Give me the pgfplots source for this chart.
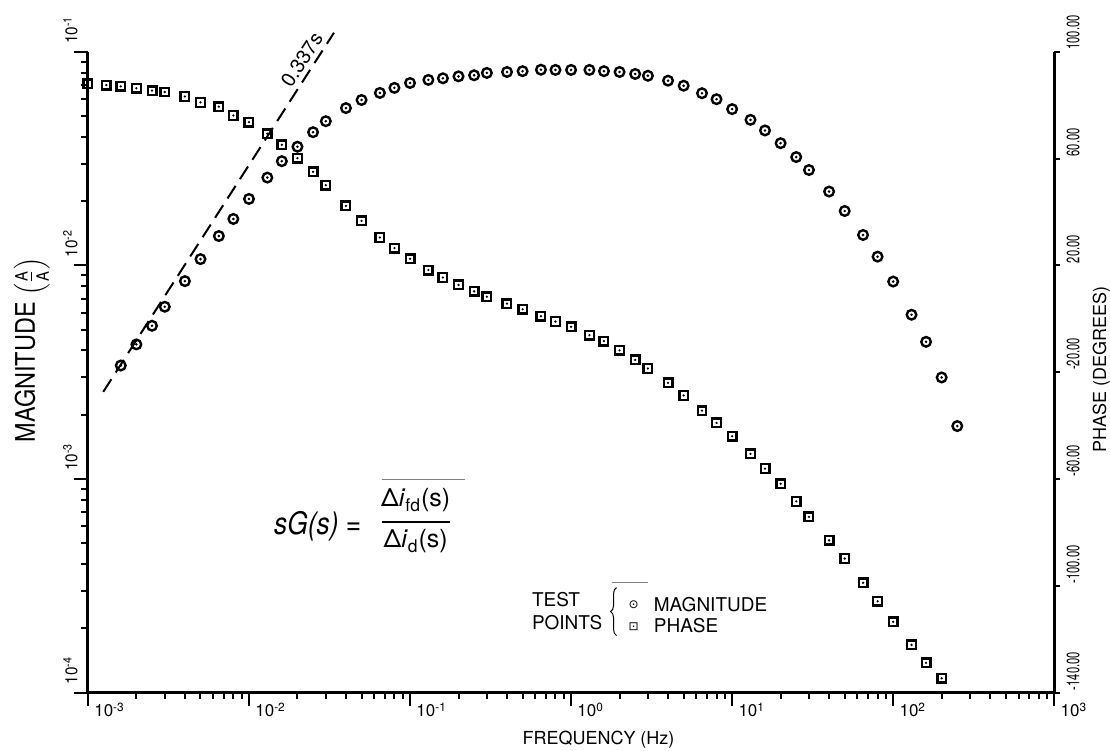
\documentclass[border=0pt]{standalone}
\usepackage{fontspec}
\setmainfont{TeX Gyre Heros}
\newfontfamily\narrowA[FakeStretch=0.62]{TeX Gyre Heros}
\newfontfamily\narrowB[FakeStretch=0.9]{TeX Gyre Heros}
\newfontfamily\narrowC[FakeStretch=0.87]{TeX Gyre Heros}
\newfontfamily\narrowD[FakeStretch=0.85]{TeX Gyre Heros}
\newfontfamily\symfont{DejaVu Sans}
\usepackage{pgfplots}
\usepackage{pgfplotstable}
\pgfplotsset{compat=1.18}
\usetikzlibrary{decorations.pathreplacing}

% dotted circle and dotted square test-point marks
\pgfdeclareplotmark{cdot}{%
  \pgfpathcircle{\pgfpointorigin}{\pgfplotmarksize}\pgfusepathqstroke
  \pgfpathcircle{\pgfpointorigin}{0.3\pgfplotmarksize}\pgfusepathqfill}
\pgfdeclareplotmark{sqdot}{%
  \pgfpathrectangle{\pgfpoint{-\pgfplotmarksize}{-\pgfplotmarksize}}{\pgfpoint{2\pgfplotmarksize}{2\pgfplotmarksize}}\pgfusepathqstroke
  \pgfpathcircle{\pgfpointorigin}{0.3\pgfplotmarksize}\pgfusepathqfill}

% magnitude test points: frequency (Hz), |sG| (A/A)
\pgfplotstableread{
f      m
0.0016 3.40e-3
0.002  4.27e-3
0.0025 5.22e-3
0.003  6.41e-3
0.004  8.45e-3
0.005  1.071e-2
0.0065 1.374e-2
0.008  1.652e-2
0.01   2.05e-2
0.013  2.58e-2
0.016  3.08e-2
0.02   3.60e-2
0.025  4.21e-2
0.03   4.74e-2
0.04   5.46e-2
0.05   5.96e-2
0.065  6.43e-2
0.08   6.79e-2
0.1    7.16e-2
0.13   7.40e-2
0.16   7.53e-2
0.2    7.69e-2
0.25   7.78e-2
0.3    7.98e-2
0.4    8.06e-2
0.5    8.13e-2
0.65   8.26e-2
0.8    8.24e-2
1.0    8.24e-2
1.3    8.24e-2
1.6    8.13e-2
2      8.06e-2
2.5    7.89e-2
3      7.74e-2
4      7.34e-2
5      6.95e-2
6.5    6.41e-2
8      6.01e-2
10     5.40e-2
13     4.81e-2
16     4.29e-2
20     3.74e-2
25     3.22e-2
30     2.80e-2
40     2.22e-2
50     1.80e-2
65     1.39e-2
80     1.10e-2
100    8.41e-3
130    5.88e-3
160    4.39e-3
200    2.99e-3
250    1.77e-3
}\magtab

% phase test points: frequency (Hz), phase (degrees)
\pgfplotstableread{
f      p
0.001  88.1
0.0013 87.6
0.0016 87.1
0.002  86.4
0.0025 85.5
0.003  85.0
0.004  83.3
0.005  81.1
0.0065 79.5
0.008  76.2
0.01   73.7
0.013  69.4
0.016  65.2
0.02   60.2
0.025  55.1
0.03   50.1
0.04   42.3
0.05   36.7
0.065  30.5
0.08   26.5
0.1    22.5
0.13   18.3
0.16   15.5
0.2    12.7
0.25   10.3
0.3    8.3
0.4    5.7
0.5    3.6
0.65   1.0
0.8   -1.0
1.0   -3.0
1.3   -6.1
1.6   -8.3
2     -11.8
2.5   -15.4
3     -18.6
4     -24.0
5     -28.7
6.5   -34.4
8     -39.0
10    -44.0
13    -50.6
16    -56.1
20    -61.8
25    -68.4
30    -74.2
40    -83.0
50    -89.8
65    -98.9
80    -105.8
100   -113.5
130   -122.2
160   -128.9
200   -134.7
}\phasetab

\begin{document}
\begin{tikzpicture}
% page frame: 555pt x 375.5pt with the axis box's lower left corner at the origin
\path (-44pt,-29pt) rectangle (511pt,346.5pt);

\begin{axis}[
  scale only axis, width=483.5pt, height=320.5pt,
  xmode=log, xmin=1e-3, xmax=1e3, clip=false,
  axis line style={line width=1.5pt},
  ymode=log, ymin=1e-4, ymax=1e-1,
  axis x line*=bottom, axis y line*=left,
  tick align=outside,
  every tick/.style={black, line width=1pt},
  major tick length=7pt, minor tick length=3.5pt,
  xtick={1e-3,1e-2,1e-1,1,10,100,1000},
  xticklabels={},
  minor xtick={0.002,0.003,0.004,0.005,0.006,0.007,0.008,0.009,
    0.02,0.03,0.04,0.05,0.06,0.07,0.08,0.09,
    0.2,0.3,0.4,0.5,0.6,0.7,0.8,0.9,
    2,3,4,5,6,7,8,9,20,30,40,50,60,70,80,90,
    200,300,400,500,600,700,800,900},
  ytick={1e-4,1e-3,1e-2,1e-1},
  yticklabels={},
  minor ytick={2e-4,3e-4,4e-4,5e-4,6e-4,7e-4,8e-4,9e-4,
    2e-3,3e-3,4e-3,5e-3,6e-3,7e-3,8e-3,9e-3,
    2e-2,3e-2,4e-2,5e-2,6e-2,7e-2,8e-2,9e-2},
]
% asymptote of slope 0.337 s
\addplot[black, line width=1pt, dash pattern=on 7.5pt off 4pt]
  coordinates {(1.245e-3,2.56e-3) (3.37e-2,0.123)};
\addplot[only marks, mark=cdot, mark size=2.4pt, mark options={black, line width=1.2pt}]
  table[x=f, y=m] {\magtab};

% frequency decade labels, set just right of each major tick
\foreach \e/\t in {1e-3/-3,1e-2/-2,1e-1/-1,1/0,10/1,100/2,1000/3}{
  \edef\tmp{\noexpand\node[anchor=north west, inner sep=0pt, font=\noexpand\fontsize{8.5}{10}\noexpand\selectfont]
    at ([xshift=3pt,yshift=-5pt]axis cs:\e,1e-4) {10\noexpand\textsuperscript{\t}};}\tmp
}
% magnitude decade labels, turned to read upwards
\foreach \e/\t in {1e-4/-4,1e-3/-3,1e-2/-2,1e-1/-1}{
  \edef\tmp{\noexpand\node[rotate=90, anchor=south west, inner sep=0pt, font=\noexpand\narrowB\noexpand\fontsize{8.5}{10}\noexpand\selectfont]
    at ([xshift=-5pt,yshift=4pt]axis cs:1e-3,\e) {10\noexpand\textsuperscript{\t}};}\tmp
}
\end{axis}

\begin{axis}[
  scale only axis, width=483.5pt, height=320.5pt,
  xmode=log, xmin=1e-3, xmax=1e3, clip=false,
  axis line style={line width=1.5pt},
  ymin=-140, ymax=100,
  axis x line=none, axis y line*=right,
  xtick=\empty,
  tick align=outside,
  every tick/.style={black, line width=1pt},
  major tick length=3pt,
  ytick={-140,-100,-60,-20,20,60,100},
  yticklabels={},
]
\addplot[only marks, mark=sqdot, mark size=2.15pt, mark options={black, line width=1.2pt}]
  table[x=f, y=p] {\phasetab};

% phase tick labels, turned to read upwards
\foreach \v/\t in {-140/-140.00,-100/-100.00,-60/-60.00,-20/-20.00,20/20.00,60/60.00,100/100.00}{
  \edef\tmp{\noexpand\node[rotate=90, anchor=north west, inner sep=0pt, font=\noexpand\narrowA\noexpand\fontsize{9}{10}\noexpand\selectfont]
    at ([xshift=6pt,yshift=1pt]axis cs:1000,\v) {\t};}\tmp
}
\end{axis}

% axis titles
\node[rotate=90, anchor=base, inner sep=0pt] at (-26.5pt,171.5pt)
  {\narrowC\fontsize{13.5}{16}\selectfont MAGNITUDE \raisebox{-2pt}{$\left(\frac{\mbox{\fontsize{8.5}{9}\selectfont A}}{\mbox{\fontsize{8.5}{9}\selectfont A}}\right)$}};
\node[rotate=90, anchor=base, inner sep=0pt] at (509.5pt,161.5pt)
  {\fontsize{9}{10}\selectfont PHASE (DEGREES)};
\node[anchor=base, inner sep=0pt] at (255.5pt,-26pt)
  {\fontsize{9}{10}\selectfont FREQUENCY (Hz)};

% slope label
\node[rotate=57, inner sep=0pt] at (107pt,316.5pt) {\fontsize{10}{12}\selectfont 0.337s};

% transfer function
\node[anchor=base west, inner sep=0pt] at (93pt,79pt)
  {\narrowD\fontsize{15.5}{17}\selectfont\itshape sG(s) =};
\node[anchor=base, inner sep=0pt] at (164pt,93pt)
  {\fontsize{12.5}{14}\selectfont Δ\textit{i}\textsubscript{fd}(s)};
\draw[line width=0.9pt] (147pt,85.5pt) -- (181pt,85.5pt);
\node[anchor=base, inner sep=0pt] at (164pt,72.5pt)
  {\fontsize{12.5}{14}\selectfont Δ\textit{i}\textsubscript{d}(s)};
\draw[line width=0.4pt, gray] (147pt,106.5pt) -- (188.5pt,106.5pt);

% key to the test points
\node[anchor=base west, inner sep=0pt] at (222pt,43pt) {\fontsize{9.5}{11}\selectfont TEST};
\node[anchor=base west, inner sep=0pt] at (222pt,31.5pt) {\fontsize{9.5}{11}\selectfont POINTS};
\draw[line width=0.5pt, decorate, decoration={brace, amplitude=3pt}] (264.5pt,28.5pt) -- (264.5pt,52.5pt);
\draw[line width=0.4pt, gray] (262pt,55pt) -- (280pt,55pt);
\node[inner sep=0pt] at (273pt,44pt) {\symfont\fontsize{6}{7}\selectfont ⊙};
\node[inner sep=0pt] at (273pt,33pt) {\symfont\fontsize{6}{7}\selectfont ⊡};
\node[anchor=base west, inner sep=0pt] at (283pt,40.5pt) {\fontsize{9.5}{11}\selectfont MAGNITUDE};
\node[anchor=base west, inner sep=0pt] at (283pt,30pt) {\fontsize{9.5}{11}\selectfont PHASE};
\end{tikzpicture}
\end{document}
